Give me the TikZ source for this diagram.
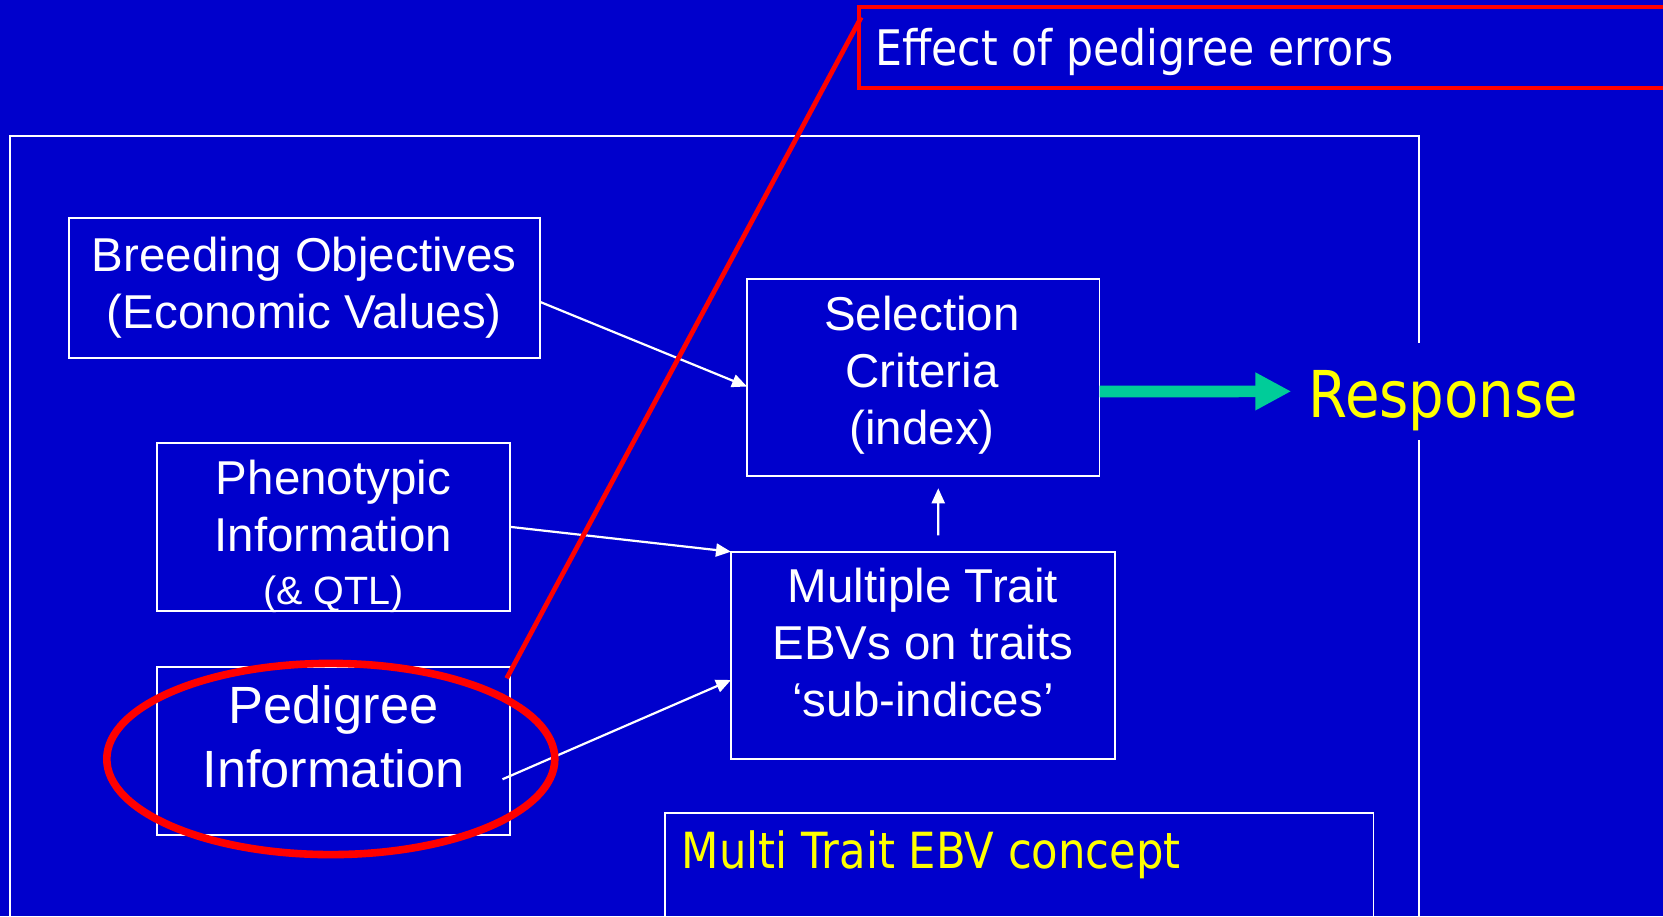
\documentclass[tikz,border=0pt]{standalone}
\usepackage{fontspec}
\setmainfont{Liberation Sans}
\newfontfamily\tahoma{DejaVu Sans}[FakeStretch=0.87]
\usetikzlibrary{arrows.meta,shapes.geometric,calc}

\definecolor{slideblue}{HTML}{0000CC}
\definecolor{flowgreen}{HTML}{00CC99}
\definecolor{marker}{HTML}{FF0000}
\definecolor{caption}{HTML}{FFFF00}

\tikzset{
  box/.style={draw=white, line width=0.9pt, rectangle, inner sep=0pt, outer sep=0pt},
  boxtext/.style={text=white, inner sep=0pt, align=center,
    font=\fontsize{23.75pt}{28.5pt}\selectfont},
  link/.style={draw=white, line width=1.1pt, -{Triangle[length=7.5pt,width=6.5pt]}},
  flow/.style={draw=flowgreen, line width=5.85pt, -{Triangle[length=18pt,width=17.7pt]}},
  redline/.style={draw=marker, line width=2.4pt},
  slidetext/.style={inner sep=0pt, anchor=base west,
    font=\tahoma\fontsize{24.5pt}{29pt}\selectfont},
}

\begin{document}
\begin{tikzpicture}[x=0.5pt,y=-0.5pt]
\useasboundingbox (0,0) rectangle (1663,916);
\clip (0,0) rectangle (1663,916);
\fill[slideblue] (0,0) rectangle (1663,916);

% outer frame of the model
\draw[white, line width=1pt] (10.3,135.7) rectangle (1418.9,990);

% boxes
\node[box, minimum width=235.35pt, minimum height=70pt]    (breed)   at (304.25,288.3) {};
\node[box, minimum width=176.25pt, minimum height=98.5pt]  (sel)     at (923.25,377.5) {};
\node[box, minimum width=176.6pt,  minimum height=84.15pt] (phen)    at (333.5,526.85) {};
\node[box, minimum width=176.35pt, minimum height=84.15pt] (ped)     at (333.65,750.85) {};
\node[box, minimum width=192.15pt, minimum height=103.8pt] (mult)    at (923.15,655.5) {};
\node[box, minimum width=354.35pt, minimum height=90pt]    (concept) at (1019.15,903.3) {};

% box texts
\node[boxtext] (breedt) at (304.3,287.7) {Breeding Objectives\\(Economic Values)};
\node[boxtext] (selt)   at (922,375.5) {Selection\\Criteria\\(index)};
\node[boxtext, font=\fontsize{23.75pt}{28.35pt}\selectfont] (phent) at (333.5,536.5)
  {Phenotypic\\Information\\[-2.05pt]{\fontsize{19.75pt}{24pt}\selectfont(\& QTL)}};
\node[boxtext, font=\fontsize{26.2pt}{31.85pt}\selectfont] (pedt) at (333.5,736.8)
  {Pedigree\\Information};
\node[boxtext] (multt)  at (923,642.7) {Multiple Trait\\EBVs on traits\\‘sub-indices’};

\node[slidetext, text=caption, font=\tahoma\fontsize{24.9pt}{29pt}\selectfont] (conceptt) at (681.5,868.3) {Multi Trait EBV concept};

% response, its fill interrupts the frame
\node[text=caption, fill=slideblue, font=\tahoma\fontsize{32.3pt}{38pt}\selectfont,
      inner xsep=0pt, inner ysep=0pt, text height=37.3pt, text depth=11.35pt,
      anchor=base west] (resp) at (1308,417.3) {Response};

% connectors
\draw[link] ($(breed.east)+(0,13.4)$) -- ($(sel.west)+(0,9)$);
\draw[link] (phen.east) -- (mult.north west);
\draw[link] ($(ped.east)+(-7.5,28.4)$) -- ($(mult.west)+(0,24.5)$);
\draw[link] ($(mult.north)+(15,-16.4)$) -- ($(sel.south)+(15,12.3)$);
\draw[flow] ($(sel.east)+(0,14)$) -- ($(resp.west)+(-16.7,0)$);

% callout on pedigree errors
\node[draw=marker, line width=1.9pt, fill=slideblue, inner sep=0pt, outer sep=0pt,
      minimum width=430.65pt, minimum height=40.5pt] (callout) at (1289.35,47.8) {};
\node[slidetext, text=white] (callt) at (875,65) {Effect of pedigree errors};
\draw[redline] ($(callout.north west)+(2.5,10)$) -- ($(ped.north east)+(-3.3,11.6)$);
\node[ellipse, draw=marker, line width=3.8pt, inner sep=0pt,
      minimum width=224pt, minimum height=95.6pt] (ring) at (330.8,759) {};
\end{tikzpicture}
\end{document}
